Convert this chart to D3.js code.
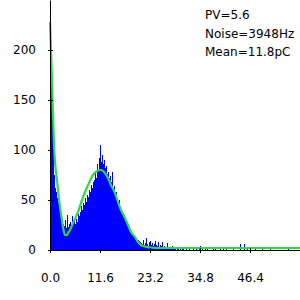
<!DOCTYPE html>
<html>
<head>
<meta charset="utf-8">
<script src="https://cdn.jsdelivr.net/npm/d3@7"></script>
<style>
body { margin:0; background:#fff; }
</style>
</head>
<body>
<div id="chart"></div>
<script>
const svgWidth = 300
const svgHeight = 300

// histogram counts, one bin per 0.232 pC starting at 0
const binWidth = 0.232
const counts = [
	173,173,133,110,75,62,58,52,48,42,
	38,34,30,26,24,30,22,35,23,26,28,24,34,27,29,26,31,28,36,34,
	38,44,40,47,45,52,48,55,53,60,58,65,62,68,70,78,72,86,80,92,
	105,88,95,86,90,82,84,76,78,72,74,68,78,62,64,57,58,52,47,50,
	42,40,36,33,35,30,28,26,25,22,20,18,17,15,14,13,12,10,10,9,
	8,7,6,10,5,7,12,6,4,8,9,5,7,4,6,9,5,4,8,3,
	5,4,8,3,4,2,3,7,2,3,1,2,4,1,2,1,0,2,1,0,
	3,0,1,2,0,0,1,0,0,1,0,0,0,1,0,0,2,0,0,1,
	4,0,1,0,0,2,0,1,0,0,0,0,0,3,0,1,0,0,0,0,
	1,0,0,3,0,0,1,0,0,0,0,0,0,1,0,0,0,0,0,0,
	6,0,0,0,6,0,0,1,0,0,0,0,0,0,0,2,0,0,0,0,
	0,0,1,0,0,0,0,0,0,0,1,0,0,0,0,0,0,0,0,0,
	0,0,0,0,0,0,0,0,1,0,0,0,0,0,0,0,0,0,0,0
]

// fitted curve
const fitX = [0,0.23,0.46,0.70,0.93,1.16,1.39,1.62,1.86,2.32,2.78,3.02,3.48,3.94,4.18,4.64,5.34,6.50,7.66,8.82,9.98,10.90,11.83,12.76,13.46,14.15,15.08,15.78,16.47,17.40,18.10,18.79,19.72,20.42,21.11,22.04,23.20,25.52,34.80,58]
const fitY = [228,200,172,135,105,88,78,70,60,43,30,23,15,15,17,20,27,38,53,65,75,79,80,77,72,65,57,48,40,32,25,18,13,8,5,3.5,2.5,2,2,2]

const xTicks = [0, 11.6, 23.2, 34.8, 46.4]
const yTicks = [0, 50, 100, 150, 200]
const infoLines = ["PV=5.6", "Noise=3948Hz", "Mean=11.8pC"]

const x = d3.scaleLinear().domain([0, 58]).range([50, 300])
const y = d3.scaleLinear().domain([0, 250]).range([250, 0])

let svg = d3.select("#chart")
	.append("svg")
	.attr("width", svgWidth)
	.attr("height", svgHeight)
	.style("font", "12px 'DejaVu Sans', sans-serif")

svg.append("g")
	.selectAll("rect")
	.data(counts)
	.enter().append("rect")
	.attr("x", (d, i) => x(i * binWidth))
	.attr("width", (d, i) => x((i + 1) * binWidth) - x(i * binWidth))
	.attr("y", d => y(d))
	.attr("height", d => y(0) - y(d))
	.attr("fill", "#0000ff")
	.attr("shape-rendering", "crispEdges")

let line = d3.line()
	.x(d => x(d[0]))
	.y(d => y(d[1]))
	.curve(d3.curveMonotoneX)

svg.append("path")
	.datum(d3.zip(fitX, fitY))
	.attr("d", line)
	.attr("fill", "none")
	.attr("stroke", "#2fd84a")
	.attr("stroke-width", 2.2)

// axes
let xAxis = svg.append("g")
	.attr("transform", "translate(0,250)")
	.call(d3.axisBottom(x).tickValues(xTicks).tickFormat(d3.format(".1f")).tickSizeInner(3).tickSizeOuter(0))
xAxis.select(".domain").attr("stroke", "#000")
xAxis.selectAll(".tick line").attr("y1", -2).attr("y2", 3)
xAxis.selectAll(".tick text").attr("y", 23).attr("font-size", 12).attr("font-family", "DejaVu Sans")

let yAxis = svg.append("g")
	.attr("transform", "translate(50,0)")
	.call(d3.axisLeft(y).tickValues(yTicks).tickSizeInner(3).tickSizeOuter(0))
yAxis.selectAll(".tick line").attr("x1", -2).attr("x2", 3)
yAxis.selectAll(".tick text").attr("x", -14).attr("font-size", 12).attr("font-family", "DejaVu Sans")

svg.append("g")
	.selectAll("text")
	.data(infoLines)
	.enter().append("text")
	.attr("x", 205)
	.attr("y", (d, i) => 19 + i * 18.5)
	.attr("fill", "#000")
	.text(d => d)
</script>
</body>
</html>
